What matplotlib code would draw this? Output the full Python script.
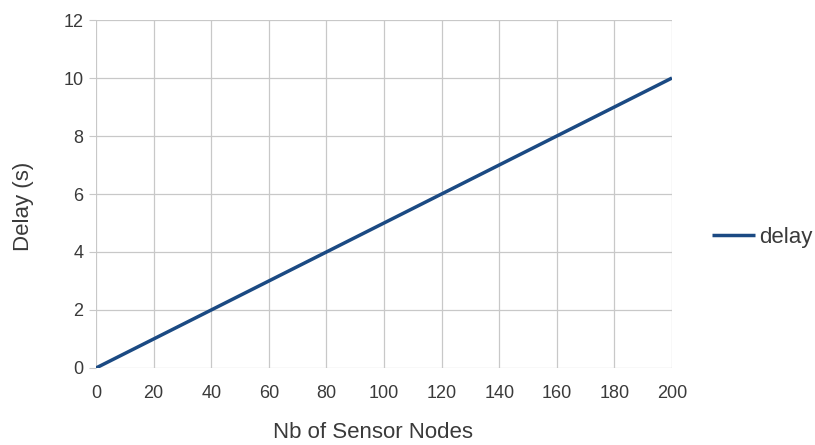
import matplotlib
matplotlib.use("Agg")
import matplotlib.pyplot as plt

nodes = [0, 20, 40, 60, 80, 100, 120, 140, 160, 180, 200]
delay = [0, 1, 2, 3, 4, 5, 6, 7, 8, 9, 10]
series_name = "delay"
x_label = "Nb of Sensor Nodes"
y_label = "Delay (s)"

plt.rcParams['font.family'] = ['Liberation Sans', 'DejaVu Sans']
txt = '#3a3a3a'

W, H = 815, 445
fig = plt.figure(figsize=(W / 100, H / 100), dpi=100)
ax = fig.add_axes([96/W, (H-368)/H, (672-96)/W, (368-20)/H])
ax.plot(nodes, delay, color='#1b4a83', lw=2.5, label=series_name, solid_capstyle='butt')
ax.set_xlim(0, 200)
ax.set_ylim(0, 12)
ax.set_xticks(range(0, 201, 20))
ax.set_yticks(range(0, 13, 2))
ax.grid(True, color='#c8c8c8', lw=0.9)
ax.set_axisbelow(True)
for s in ax.spines.values():
    s.set_visible(False)
ax.tick_params(axis='y', length=5, color='#c8c8c8', labelsize=13, labelcolor=txt, pad=4)
ax.tick_params(axis='x', length=0, labelsize=13, labelcolor=txt, pad=12)
ax.set_xlabel(x_label, fontsize=16, color=txt)
ax.set_ylabel(y_label, fontsize=16, color=txt)
ax.xaxis.set_label_coords((373-96)/576, (368-433)/348)
ax.xaxis.label.set_va('center')
ax.yaxis.set_label_coords((24-96)/576, (368-206)/348)
ax.yaxis.label.set_va('center')
ax.legend(loc='center left', bbox_to_anchor=(712/W, 1-237/H), bbox_transform=fig.transFigure,
          frameon=False, fontsize=16, borderaxespad=0, borderpad=0,
          handlelength=1.95, handletextpad=0.15, labelcolor=txt)
fig.savefig('out.png', dpi=100)
